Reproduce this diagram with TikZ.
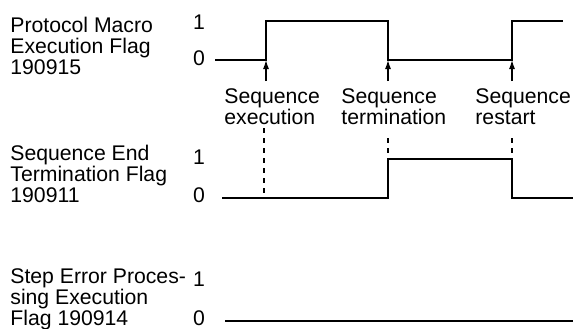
\documentclass[tikz,border=0pt]{standalone}
\usepackage{fontspec}
\setmainfont{Liberation Sans}
\usetikzlibrary{arrows.meta, positioning}

\begin{document}
\begin{tikzpicture}[x=0.5pt, y=-0.5pt, font=\fontsize{10.6}{10.3}\selectfont,
  lbl/.style={align=left, anchor=base west, inner sep=0pt},
  lvl/.style={inner sep=0pt},
  wave/.style={line width=0.75pt},
  trig/.style={-{Latex[length=4.5pt, width=3pt]}, line width=0.6pt},
  guide/.style={line width=0.6pt, dash pattern=on 2.5pt off 2.5pt}]

\useasboundingbox (0,0) rectangle (576,328);

% Protocol Macro Execution Flag
\node[lbl] (pmef) at (10,74) {Protocol Macro\\Execution Flag\\190915};
\node[lvl] (pmefhi) at (199,22) {1};
\node[lvl] (pmeflo) at (199,58) {0};
\draw[wave] (215,60) -- (266,60) coordinate (up1) -- (266,21) -- (388,21) -- (388,60) coordinate (dn1)
  -- (512,60) coordinate (up2) -- (512,21) -- (563,21);

% events
\coordinate (t1) at (266,81);
\coordinate (t2) at (388,81);
\coordinate (t3) at (512,81);
\draw[trig] (t1) -- (up1);
\draw[trig] (t2) -- (dn1);
\draw[trig] (t3) -- (up2);
\node[lbl] (exec) at (224,124) {Sequence\\execution};
\node[lbl] (term) at (341,124) {Sequence\\termination};
\node[lbl] (rest) at (475,124) {Sequence\\restart};

% Sequence End Termination Flag
\node[lbl] (setf) at (10,202) {Sequence End\\Termination Flag\\190911};
\node[lvl] (setfhi) at (199,157) {1};
\node[lvl] (setflo) at (199,195) {0};
\draw[wave] (222,198) coordinate (s0) -- (388,198) -- (388,159) coordinate (up3) -- (512,159) coordinate (dn3)
  -- (512,198) -- (573,198);
\coordinate (g1) at (264,128);
\coordinate (g1e) at (264,198);
\coordinate (g2) at (388,138);
\coordinate (g3) at (512,138);
\draw[guide] (g1) -- (g1e);
\draw[guide] (g2) -- (up3);
\draw[guide] (g3) -- (dn3);

% Step Error Processing Execution Flag
\node[lbl] (sepf) at (10,325) {Step Error Proces-\\sing Execution\\Flag 190914};
\node[lvl] (sepfhi) at (199,279) {1};
\node[lvl] (sepflo) at (199,318) {0};
\draw[wave] (225,321) -- (573,321);

\end{tikzpicture}
\end{document}
